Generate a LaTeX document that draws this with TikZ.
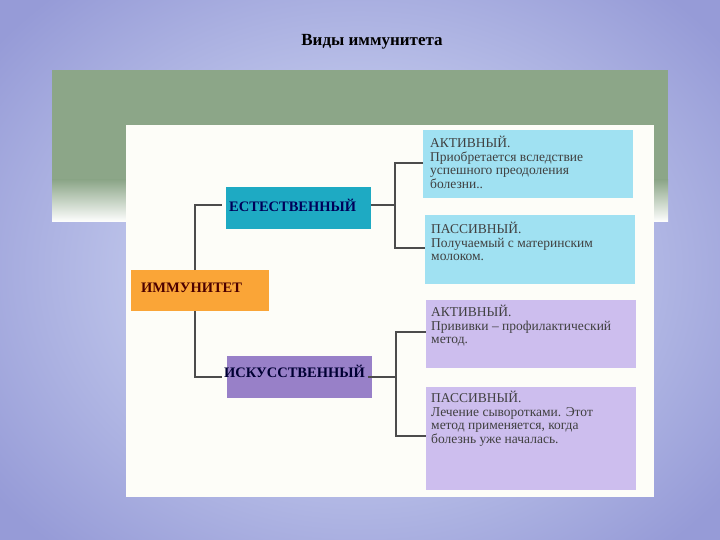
\documentclass[tikz,border=0pt]{standalone}
\usepackage{fontspec}
\setmainfont{Liberation Serif}
\definecolor{bgout}{RGB}{150,155,215}
\definecolor{bgin}{RGB}{222,230,250}
\definecolor{band}{RGB}{140,166,136}
\definecolor{panel}{RGB}{253,253,248}
\definecolor{orng}{RGB}{250,165,55}
\definecolor{teal1}{RGB}{30,170,195}
\definecolor{viol1}{RGB}{152,128,200}
\definecolor{cyan1}{RGB}{160,225,242}
\definecolor{lav1}{RGB}{205,190,238}
\begin{document}
\begin{tikzpicture}[x=1pt,y=-1pt,
  desc/.style={align=left,font=\fontsize{13.5}{13.5}\selectfont,text=black!75,anchor=north west,inner sep=0pt},
  lbl/.style={font=\bfseries\fontsize{14.5}{16}\selectfont,anchor=west,inner sep=0pt},
  conn/.style={draw=black!70,line width=1.6pt}]
\useasboundingbox (0,0) rectangle (720,540);
\fill[inner color=bgin,outer color=bgout] (-100,-100) rectangle (820,640);
\fill[band] (52,70) rectangle (668,180);
\fill[top color=band,bottom color=white] (52,180) rectangle (668,222);
\fill[panel] (126,125) rectangle (654,497);
\node[font=\bfseries\fontsize{17}{19}\selectfont] (title) at (372,42) {Виды иммунитета};
\fill[orng] (131,270) rectangle (269,311);
\node[lbl,text=black!70!red] (imm) at (141,288) {ИММУНИТЕТ};
\fill[teal1] (226,187) rectangle (371,229);
\node[lbl,text=black!65!blue] (est) at (229,205) {ЕСТЕСТВЕННЫЙ};
\fill[viol1] (227,356) rectangle (372,398);
\node[lbl,text=black!80!blue] (isk) at (224,371) {ИСКУССТВЕННЫЙ};
\fill[cyan1] (423,130) rectangle (633,198);
\node[desc] (a1) at (430,136) {АКТИВНЫЙ.\\Приобретается вследствие\\успешного преодоления\\болезни..};
\fill[cyan1] (425,215) rectangle (635,284);
\node[desc] (p1) at (431,222) {ПАССИВНЫЙ.\\Получаемый с материнским\\молоком.};
\fill[lav1] (426,300) rectangle (636,368);
\node[desc] (a2) at (431,305) {АКТИВНЫЙ.\\Прививки – профилактический\\метод.};
\fill[lav1] (426,387) rectangle (636,490);
\node[desc] (p2) at (431,391) {ПАССИВНЫЙ.\\Лечение сыворотками. Этот\\метод применяется, когда\\болезнь уже началась.};
\coordinate (t1) at (195,205); \coordinate (t2) at (195,377);
\coordinate (r1) at (395,163); \coordinate (r2) at (395,248);
\coordinate (s1) at (396,332); \coordinate (s2) at (396,436);
\draw[conn] (195,270) -- (t1) -- (222,205);
\draw[conn] (195,311) -- (t2) -- (222,377);
\draw[conn] (371,205) -- (395,205);
\draw[conn] (423,163) -- (r1) -- (r2) -- (425,248);
\draw[conn] (368,377) -- (396,377);
\draw[conn] (426,332) -- (s1) -- (s2) -- (426,436);
\end{tikzpicture}
\end{document}
